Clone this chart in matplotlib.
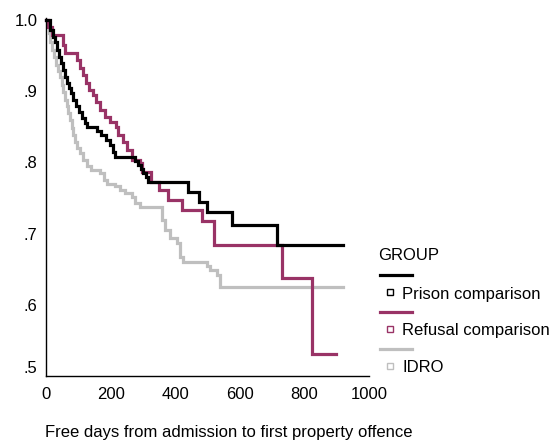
import matplotlib
matplotlib.use("Agg")
import matplotlib.pyplot as plt
from matplotlib.lines import Line2D

plt.rcParams["font.family"] = ["Liberation Sans", "DejaVu Sans"]
plt.rcParams["font.size"] = 12

# Kaplan-Meier steps: day of each drop and survival after it
prison_days = [0, 12, 22, 28, 34, 40, 46, 53, 59, 65, 71, 77, 84, 93, 102, 111, 121, 127,
               158, 170, 186, 198, 207, 214, 276, 285, 294, 300, 310, 316, 440, 474, 498,
               576, 715, 920]
prison_surv = [1.000, 0.986, 0.976, 0.969, 0.958, 0.948, 0.940, 0.930, 0.920, 0.912, 0.904,
               0.897, 0.888, 0.879, 0.871, 0.862, 0.855, 0.850, 0.844, 0.838, 0.831, 0.824,
               0.815, 0.808, 0.802, 0.796, 0.791, 0.785, 0.779, 0.772, 0.758, 0.744, 0.730,
               0.712, 0.684, 0.684]

refusal_days = [0, 6, 19, 53, 59, 96, 105, 115, 124, 133, 146, 155, 167, 183, 198, 217, 223,
                238, 251, 266, 291, 297, 325, 350, 378, 421, 483, 520, 731, 824, 898]
refusal_surv = [1.000, 0.990, 0.979, 0.965, 0.954, 0.944, 0.933, 0.923, 0.912, 0.902, 0.895,
                0.885, 0.874, 0.864, 0.857, 0.850, 0.838, 0.829, 0.817, 0.803, 0.799, 0.787,
                0.772, 0.761, 0.747, 0.733, 0.718, 0.684, 0.638, 0.531, 0.531]

idro_days = [0, 6, 9, 12, 19, 25, 31, 37, 43, 50, 53, 59, 65, 68, 74, 80, 84, 90, 96, 105,
             115, 127, 139, 167, 180, 189, 214, 229, 245, 266, 276, 291, 359, 368, 384, 406,
             415, 424, 498, 508, 529, 539, 920]
idro_surv = [1.000, 0.993, 0.982, 0.969, 0.958, 0.948, 0.937, 0.928, 0.920, 0.909, 0.899,
             0.888, 0.879, 0.869, 0.860, 0.848, 0.838, 0.829, 0.820, 0.813, 0.803, 0.795,
             0.789, 0.785, 0.775, 0.770, 0.767, 0.761, 0.757, 0.751, 0.743, 0.737, 0.719,
             0.705, 0.694, 0.687, 0.667, 0.660, 0.654, 0.649, 0.642, 0.625, 0.625]

groups = ["Prison comparison", "Refusal comparison", "IDRO"]
colors = ["#000000", "#993366", "#bfbfbf"]
x_ticks = [0, 200, 400, 600, 800, 1000]
y_ticks = [0.5, 0.6, 0.7, 0.8, 0.9, 1.0]
y_tick_labels = [".5", ".6", ".7", ".8", ".9", "1.0"]

fig = plt.figure(figsize=(5.58, 4.43), dpi=100)
W, H = 558, 443
ax = fig.add_axes([46 / W, 1 - 376 / H, (369 - 46) / W, (376 - 18) / H])

series = [(prison_days, prison_surv), (refusal_days, refusal_surv), (idro_days, idro_surv)]
# draw grey first so the comparison groups sit on top
for (days, surv), color in reversed(list(zip(series, colors))):
    ax.step(days, surv, where="post", color=color, lw=2.3, clip_on=False,
            solid_joinstyle="miter")

ax.set_xlim(0, 1000)
ax.set_ylim(0.5, 1.003)
ax.set_xticks(x_ticks)
ax.set_yticks(y_ticks)
ax.set_yticklabels(y_tick_labels)
ax.tick_params(length=0, labelsize=12, colors="black")
ax.tick_params(axis="y", pad=6)
ax.tick_params(axis="x", pad=8)
ax.yaxis.get_ticklabels()[0].set_verticalalignment("bottom")
for side in ["top", "right"]:
    ax.spines[side].set_visible(False)
for side in ["left", "bottom"]:
    ax.spines[side].set_linewidth(1.0)

fig.text(45 / W, 1 - 433 / H, "Free days from admission to first property offence",
         ha="left", va="center", fontsize=12)

# legend built by hand: line swatch, small hollow square, label
fig.text(378 / W, 1 - 256 / H, "GROUP", ha="left", va="center", fontsize=12)
for i, (name, color) in enumerate(zip(groups, colors)):
    y_line = 275 + 37 * i
    fig.add_artist(Line2D([380 / W, 412 / W], [1 - y_line / H, 1 - y_line / H],
                          color=color, lw=2.3, transform=fig.transFigure))
    fig.add_artist(Line2D([390 / W], [1 - (y_line + 17) / H], marker="s", ms=4,
                          mfc="white", mec=color, mew=1.0, ls="none",
                          transform=fig.transFigure))
    fig.text(402 / W, 1 - (y_line + 19) / H, name, ha="left", va="center", fontsize=12)

fig.savefig("out.png", dpi=100)
